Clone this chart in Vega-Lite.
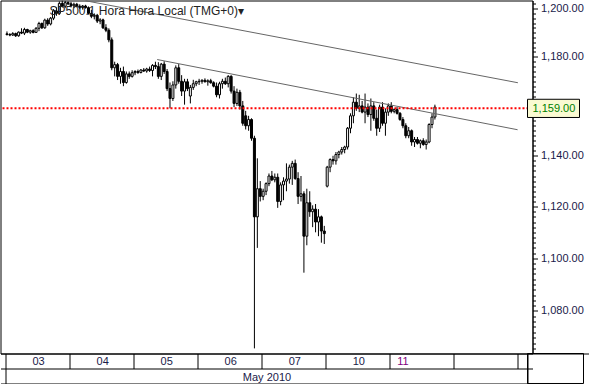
{
  "$schema": "https://vega.github.io/schema/vega-lite/v6.json",
  "width": 532,
  "height": 353,
  "autosize": {"type": "none"},
  "padding": {"left": 0.5, "top": 0.5, "right": 56.5, "bottom": 30.5},
  "background": "#ffffff",
  "config": {"view": {"stroke": "#000000", "strokeWidth": 1}, "font": "Liberation Sans", "axis": {"grid": false}},
  "data": {"values": [
    {"t":0,"o":1189.5,"h":1190.5,"l":1188.8,"c":1189.2},
    {"t":1,"o":1189.2,"h":1189.8,"l":1188.5,"c":1189.0},
    {"t":2,"o":1189.0,"h":1190.2,"l":1188.6,"c":1189.6},
    {"t":3,"o":1189.6,"h":1190.0,"l":1188.2,"c":1188.7},
    {"t":4,"o":1188.7,"h":1190.5,"l":1188.3,"c":1190.2},
    {"t":5,"o":1190.2,"h":1191.8,"l":1189.4,"c":1189.8},
    {"t":6,"o":1189.8,"h":1192.0,"l":1189.0,"c":1191.3},
    {"t":7,"o":1191.3,"h":1191.6,"l":1189.8,"c":1190.2},
    {"t":8,"o":1190.2,"h":1191.2,"l":1189.5,"c":1190.8},
    {"t":9,"o":1190.8,"h":1191.4,"l":1189.7,"c":1190.1},
    {"t":10,"o":1190.1,"h":1192.3,"l":1189.9,"c":1191.8},
    {"t":11,"o":1191.8,"h":1194.5,"l":1190.6,"c":1193.8},
    {"t":12,"o":1193.8,"h":1194.2,"l":1191.5,"c":1192.0},
    {"t":13,"o":1192.0,"h":1195.8,"l":1191.6,"c":1195.2},
    {"t":14,"o":1195.2,"h":1196.0,"l":1192.8,"c":1193.6},
    {"t":15,"o":1193.6,"h":1196.5,"l":1193.0,"c":1196.0},
    {"t":16,"o":1196.0,"h":1199.8,"l":1195.2,"c":1199.0},
    {"t":17,"o":1199.0,"h":1200.5,"l":1197.0,"c":1198.0},
    {"t":18,"o":1198.0,"h":1203.0,"l":1197.5,"c":1202.2},
    {"t":19,"o":1202.2,"h":1203.3,"l":1200.5,"c":1201.0},
    {"t":20,"o":1201.0,"h":1203.2,"l":1200.2,"c":1202.5},
    {"t":21,"o":1202.5,"h":1203.0,"l":1201.5,"c":1202.0},
    {"t":22,"o":1202.0,"h":1202.8,"l":1200.5,"c":1201.2},
    {"t":23,"o":1201.2,"h":1202.5,"l":1200.2,"c":1201.8},
    {"t":24,"o":1201.8,"h":1202.4,"l":1200.8,"c":1201.0},
    {"t":25,"o":1201.0,"h":1201.8,"l":1199.8,"c":1200.5},
    {"t":26,"o":1200.5,"h":1201.5,"l":1199.6,"c":1201.1},
    {"t":27,"o":1201.1,"h":1201.6,"l":1200.0,"c":1200.4},
    {"t":28,"o":1200.4,"h":1200.9,"l":1197.5,"c":1198.0},
    {"t":29,"o":1198.0,"h":1199.5,"l":1196.0,"c":1196.8},
    {"t":30,"o":1196.8,"h":1198.0,"l":1195.5,"c":1197.2},
    {"t":31,"o":1197.2,"h":1197.8,"l":1194.0,"c":1194.8},
    {"t":32,"o":1194.8,"h":1196.0,"l":1193.5,"c":1195.3},
    {"t":33,"o":1195.3,"h":1195.8,"l":1191.5,"c":1192.0},
    {"t":34,"o":1192.0,"h":1193.5,"l":1190.2,"c":1191.0},
    {"t":35,"o":1191.0,"h":1191.8,"l":1186.0,"c":1187.0},
    {"t":36,"o":1187.0,"h":1188.0,"l":1174.5,"c":1175.5},
    {"t":37,"o":1175.5,"h":1178.0,"l":1172.0,"c":1176.8},
    {"t":38,"o":1176.8,"h":1177.5,"l":1170.5,"c":1172.0},
    {"t":39,"o":1172.0,"h":1175.5,"l":1169.0,"c":1174.0},
    {"t":40,"o":1174.0,"h":1176.0,"l":1168.0,"c":1169.5},
    {"t":41,"o":1169.5,"h":1174.0,"l":1169.0,"c":1173.0},
    {"t":42,"o":1173.0,"h":1174.0,"l":1171.0,"c":1172.0},
    {"t":43,"o":1172.0,"h":1174.5,"l":1171.5,"c":1173.5},
    {"t":44,"o":1173.5,"h":1174.5,"l":1172.5,"c":1174.0},
    {"t":45,"o":1174.0,"h":1174.8,"l":1173.0,"c":1173.6},
    {"t":46,"o":1173.6,"h":1175.0,"l":1173.2,"c":1174.6},
    {"t":47,"o":1174.6,"h":1175.4,"l":1173.8,"c":1174.2},
    {"t":48,"o":1174.2,"h":1175.5,"l":1173.5,"c":1175.0},
    {"t":49,"o":1175.0,"h":1176.0,"l":1173.8,"c":1174.4},
    {"t":50,"o":1174.4,"h":1177.0,"l":1172.0,"c":1176.5},
    {"t":51,"o":1176.5,"h":1178.0,"l":1175.0,"c":1176.0},
    {"t":52,"o":1176.0,"h":1177.8,"l":1171.0,"c":1172.0},
    {"t":53,"o":1172.0,"h":1177.5,"l":1170.5,"c":1177.0},
    {"t":54,"o":1177.0,"h":1178.2,"l":1173.0,"c":1174.0},
    {"t":55,"o":1174.0,"h":1175.0,"l":1166.0,"c":1167.0},
    {"t":56,"o":1167.0,"h":1169.5,"l":1159.0,"c":1163.0},
    {"t":57,"o":1163.0,"h":1170.0,"l":1162.0,"c":1168.5},
    {"t":58,"o":1168.5,"h":1176.5,"l":1167.0,"c":1175.5},
    {"t":59,"o":1175.5,"h":1177.0,"l":1169.0,"c":1170.0},
    {"t":60,"o":1170.0,"h":1172.5,"l":1164.0,"c":1166.0},
    {"t":61,"o":1166.0,"h":1171.0,"l":1160.5,"c":1169.8},
    {"t":62,"o":1169.8,"h":1171.0,"l":1166.0,"c":1167.0},
    {"t":63,"o":1164.0,"h":1168.5,"l":1161.0,"c":1167.5},
    {"t":64,"o":1167.5,"h":1170.6,"l":1166.5,"c":1169.0},
    {"t":65,"o":1169.0,"h":1170.2,"l":1168.0,"c":1169.8},
    {"t":66,"o":1169.8,"h":1171.0,"l":1168.5,"c":1170.0},
    {"t":67,"o":1170.0,"h":1170.8,"l":1169.0,"c":1170.4},
    {"t":68,"o":1170.4,"h":1171.2,"l":1169.5,"c":1169.8},
    {"t":69,"o":1169.8,"h":1170.8,"l":1168.2,"c":1170.2},
    {"t":70,"o":1170.2,"h":1171.0,"l":1169.0,"c":1169.4},
    {"t":71,"o":1169.4,"h":1170.0,"l":1167.5,"c":1168.0},
    {"t":72,"o":1168.0,"h":1169.5,"l":1163.5,"c":1164.5},
    {"t":73,"o":1164.5,"h":1169.8,"l":1163.0,"c":1169.0},
    {"t":74,"o":1169.0,"h":1171.0,"l":1167.0,"c":1170.0},
    {"t":75,"o":1170.0,"h":1171.5,"l":1168.5,"c":1169.0},
    {"t":76,"o":1169.0,"h":1172.5,"l":1167.5,"c":1172.0},
    {"t":77,"o":1172.0,"h":1172.5,"l":1165.0,"c":1166.0},
    {"t":78,"o":1166.0,"h":1168.0,"l":1159.5,"c":1161.0},
    {"t":79,"o":1161.0,"h":1167.0,"l":1160.0,"c":1165.5},
    {"t":80,"o":1165.5,"h":1166.5,"l":1158.5,"c":1160.0},
    {"t":81,"o":1160.0,"h":1162.0,"l":1152.0,"c":1153.0},
    {"t":82,"o":1156.0,"h":1158.0,"l":1150.5,"c":1152.0},
    {"t":83,"o":1152.0,"h":1156.0,"l":1150.0,"c":1154.5},
    {"t":84,"o":1154.5,"h":1155.0,"l":1146.0,"c":1147.0},
    {"t":85,"o":1147.0,"h":1148.0,"l":1066.0,"c":1116.0},
    {"t":86,"o":1116.0,"h":1139.0,"l":1104.0,"c":1127.0},
    {"t":87,"o":1127.0,"h":1130.0,"l":1122.0,"c":1124.0},
    {"t":88,"o":1124.0,"h":1127.0,"l":1122.5,"c":1126.0},
    {"t":89,"o":1126.0,"h":1129.5,"l":1124.5,"c":1129.0},
    {"t":90,"o":1129.0,"h":1133.0,"l":1128.0,"c":1132.0},
    {"t":91,"o":1132.0,"h":1134.0,"l":1130.0,"c":1130.5},
    {"t":92,"o":1130.5,"h":1133.0,"l":1129.5,"c":1131.5},
    {"t":93,"o":1131.5,"h":1133.0,"l":1119.5,"c":1122.0},
    {"t":94,"o":1122.0,"h":1129.5,"l":1120.5,"c":1128.5},
    {"t":95,"o":1128.5,"h":1131.5,"l":1122.5,"c":1130.0},
    {"t":96,"o":1130.0,"h":1137.0,"l":1126.0,"c":1130.8},
    {"t":97,"o":1130.8,"h":1136.5,"l":1129.0,"c":1135.5},
    {"t":98,"o":1135.5,"h":1138.0,"l":1128.5,"c":1137.0},
    {"t":99,"o":1137.0,"h":1138.5,"l":1130.5,"c":1131.0},
    {"t":100,"o":1131.0,"h":1133.5,"l":1121.0,"c":1124.0},
    {"t":101,"o":1124.0,"h":1132.0,"l":1122.0,"c":1125.0},
    {"t":102,"o":1125.0,"h":1126.0,"l":1094.5,"c":1108.5},
    {"t":103,"o":1108.5,"h":1127.0,"l":1105.0,"c":1121.5},
    {"t":104,"o":1121.5,"h":1126.0,"l":1116.0,"c":1118.0},
    {"t":105,"o":1118.0,"h":1120.5,"l":1112.0,"c":1119.0},
    {"t":106,"o":1119.0,"h":1121.0,"l":1110.0,"c":1114.0},
    {"t":107,"o":1114.0,"h":1119.0,"l":1108.5,"c":1116.0},
    {"t":108,"o":1116.0,"h":1116.5,"l":1106.0,"c":1110.5},
    {"t":109,"o":1110.5,"h":1112.5,"l":1105.5,"c":1109.5},
    {"t":110,"o":1128.0,"h":1136.0,"l":1127.5,"c":1135.5},
    {"t":111,"o":1135.5,"h":1139.0,"l":1133.5,"c":1138.5},
    {"t":112,"o":1138.5,"h":1140.0,"l":1136.5,"c":1138.0},
    {"t":113,"o":1138.0,"h":1141.5,"l":1136.5,"c":1140.5},
    {"t":114,"o":1140.5,"h":1142.0,"l":1139.0,"c":1141.5},
    {"t":115,"o":1141.5,"h":1143.5,"l":1140.5,"c":1142.5},
    {"t":116,"o":1142.5,"h":1144.0,"l":1141.0,"c":1143.5},
    {"t":117,"o":1143.5,"h":1151.5,"l":1142.5,"c":1151.0},
    {"t":118,"o":1151.0,"h":1157.0,"l":1149.0,"c":1156.0},
    {"t":119,"o":1156.0,"h":1163.5,"l":1153.0,"c":1161.5},
    {"t":120,"o":1161.5,"h":1165.0,"l":1158.0,"c":1159.0},
    {"t":121,"o":1159.0,"h":1164.5,"l":1157.5,"c":1160.0},
    {"t":122,"o":1160.0,"h":1162.0,"l":1157.0,"c":1157.5},
    {"t":123,"o":1157.5,"h":1165.0,"l":1153.0,"c":1159.5},
    {"t":124,"o":1159.5,"h":1161.0,"l":1155.5,"c":1156.5},
    {"t":125,"o":1156.5,"h":1163.0,"l":1150.0,"c":1160.0},
    {"t":126,"o":1160.0,"h":1161.5,"l":1154.0,"c":1155.0},
    {"t":127,"o":1155.0,"h":1158.5,"l":1148.0,"c":1151.0},
    {"t":128,"o":1151.0,"h":1160.5,"l":1149.5,"c":1159.5},
    {"t":129,"o":1159.5,"h":1161.5,"l":1152.0,"c":1153.0},
    {"t":130,"o":1153.0,"h":1159.0,"l":1148.0,"c":1157.5},
    {"t":131,"o":1157.5,"h":1161.0,"l":1156.0,"c":1160.0},
    {"t":132,"o":1160.0,"h":1161.5,"l":1157.0,"c":1157.8},
    {"t":133,"o":1157.8,"h":1159.0,"l":1157.0,"c":1158.5},
    {"t":134,"o":1158.5,"h":1159.5,"l":1156.5,"c":1157.0},
    {"t":135,"o":1157.0,"h":1157.5,"l":1154.0,"c":1154.5},
    {"t":136,"o":1154.5,"h":1155.5,"l":1151.0,"c":1152.0},
    {"t":137,"o":1152.0,"h":1153.0,"l":1147.0,"c":1148.0},
    {"t":138,"o":1148.0,"h":1151.5,"l":1147.0,"c":1150.0},
    {"t":139,"o":1150.0,"h":1150.5,"l":1144.0,"c":1145.5},
    {"t":140,"o":1145.5,"h":1147.5,"l":1143.5,"c":1146.5},
    {"t":141,"o":1146.5,"h":1147.5,"l":1144.5,"c":1145.0},
    {"t":142,"o":1145.0,"h":1146.5,"l":1143.0,"c":1146.0},
    {"t":143,"o":1146.0,"h":1147.0,"l":1144.0,"c":1144.5},
    {"t":144,"o":1144.5,"h":1146.5,"l":1142.5,"c":1145.5},
    {"t":145,"o":1145.5,"h":1153.0,"l":1145.0,"c":1152.5},
    {"t":146,"o":1152.5,"h":1157.0,"l":1151.0,"c":1155.5},
    {"t":147,"o":1155.5,"h":1160.5,"l":1154.5,"c":1159.5}
  ]},
  "resolve": {"axis": {"x": "independent", "y": "independent"}},
  "layer": [
    {
      "mark": {"type": "rule", "color": "#000000", "strokeWidth": 1},
      "encoding": {
        "x": {"field": "t", "type": "quantitative",
          "scale": {"domain": [-0.5, 178.8], "nice": false, "zero": false},
          "axis": {
            "orient": "bottom",
            "values": [-0.5, 21.5, 43.5, 65.5, 87.5, 109.5, 131.5, 153.5, 175.5, 178.8],
            "domain": true, "domainColor": "#000000",
            "ticks": true, "tickSize": 15, "tickColor": "#000000", "tickWidth": 1,
            "labelExpr": "datum.value < 0 ? '03' : datum.value < 22 ? '04' : datum.value < 44 ? '05' : datum.value < 66 ? '06' : datum.value < 88 ? '07' : datum.value < 110 ? '10' : datum.value < 132 ? '11' : ''",
            "labelAlign": {"condition": {"test": "datum.value == 131.5", "value": "left"}, "value": "center"},
            "labelOffset": {"condition": {"test": "datum.value == 131.5", "value": 7}, "value": 32.6},
            "labelColor": {"condition": {"test": "datum.value == 131.5", "value": "#800080"}, "value": "#1a1a4a"},
            "labelPadding": -13,
            "labelFont": "Liberation Sans", "labelFontSize": 11,
            "labelOverlap": false, "labelBound": false, "labelFlush": false,
            "title": "May 2010", "titleFont": "Liberation Sans", "titleFontSize": 11, "titleFontWeight": "normal", "titleColor": "#1a1a4a", "titlePadding": 2
          }
        },
        "y": {"field": "l", "type": "quantitative",
          "scale": {"type": "log", "domain": [1064.1, 1203.4], "nice": false, "zero": false},
          "axis": {
            "orient": "right", "title": null,
            "values": [1080, 1100, 1120, 1140, 1160, 1180, 1200],
            "domain": true, "domainColor": "#000000",
            "ticks": true, "tickColor": "#000000", "tickWidth": 1, "tickSize": 5,
            "labelExpr": "datum.value == 1160 ? '' : format(datum.value, ',.2f')",
            "labelFont": "Liberation Sans", "labelFontSize": 11, "labelColor": "#1a1a4a",
            "labelPadding": 3, "labelOverlap": false, "labelBound": false, "labelFlush": false
          }
        },
        "y2": {"field": "h"}
      }
    },
    {
      "mark": {"type": "bar", "orient": "vertical", "size": 2, "stroke": "#000000", "strokeWidth": 1},
      "encoding": {
        "x": {"field": "t", "type": "quantitative",
          "axis": {"orient": "bottom", "offset": 30, "domain": true, "domainColor": "#000000", "ticks": false, "labels": false, "title": null}},
        "y": {"field": "o", "type": "quantitative",
          "axis": {
            "orient": "right", "title": null, "domain": false, "labels": false,
            "values": [1066,1068,1070,1072,1074,1076,1078,1082,1084,1086,1088,1090,1092,1094,1096,1098,1102,1104,1106,1108,1110,1112,1114,1116,1118,1122,1124,1126,1128,1130,1132,1134,1136,1138,1142,1144,1146,1148,1150,1152,1154,1156,1158,1162,1164,1166,1168,1170,1172,1174,1176,1178,1182,1184,1186,1188,1190,1192,1194,1196,1198,1202],
            "ticks": true, "tickSize": 3, "tickColor": "#000000", "tickWidth": 1
          }
        },
        "y2": {"field": "c"},
        "fill": {"condition": {"test": "datum.c >= datum.o", "value": "#ffffff"}, "value": "#000000"}
      }
    },
    {
      "data": {"values": [
        {"line": "upper", "t": 27, "p": 1203.3},
        {"line": "upper", "t": 175.5, "p": 1169.4},
        {"line": "lower", "t": 51.6, "p": 1178.9},
        {"line": "lower", "t": 175.4, "p": 1150.4}
      ]},
      "mark": {"type": "line", "color": "#666666", "strokeWidth": 1},
      "encoding": {
        "x": {"field": "t", "type": "quantitative",
          "axis": {"orient": "bottom", "offset": 15, "values": [-0.5, 178.8], "domain": true, "domainColor": "#000000", "ticks": true, "tickSize": 15, "tickColor": "#000000", "labels": false, "title": null}},
        "y": {"field": "p", "type": "quantitative",
          "axis": {"orient": "right", "title": null, "domain": false, "labels": false, "values": [1064.1], "ticks": true, "tickSize": 56, "tickColor": "#000000", "tickWidth": 1}},
        "detail": {"field": "line"}
      }
    },
    {
      "data": {"values": [{"caption": "SP500.1 Hora Hora Local (TMG+0)▾"}]},
      "mark": {"type": "text", "align": "left", "baseline": "alphabetic", "dx": 44, "dy": 14.5, "font": "Liberation Sans", "fontSize": 12, "color": "#222222"},
      "encoding": {
        "x": {"datum": -0.5, "type": "quantitative", "axis": null},
        "y": {"datum": 1203.4, "type": "quantitative", "axis": null},
        "text": {"field": "caption"}
      }
    },
    {
      "data": {"values": [{"price": 1159, "label": "1,159.00"}]},
      "layer": [
        {
          "mark": {"type": "rule", "color": "#ff0000", "strokeWidth": 2, "strokeDash": [2, 2]},
          "encoding": {"y": {"field": "price", "type": "quantitative", "axis": null}}
        },
        {
          "mark": {"type": "point", "shape": "M0,-0.35L2,-0.35L2,0.35L0,0.35Z", "size": 2704, "filled": true, "fill": "#fafad2", "stroke": "#000000", "strokeWidth": 1, "opacity": 1, "fillOpacity": 1},
          "encoding": {
            "x": {"datum": 178.8, "type": "quantitative", "axis": null},
            "y": {"field": "price", "type": "quantitative", "axis": null}
          }
        },
        {
          "mark": {"type": "text", "align": "left", "baseline": "middle", "dx": 5, "dy": 0.5, "font": "Liberation Sans", "fontSize": 11, "color": "#008000"},
          "encoding": {
            "x": {"datum": 178.8, "type": "quantitative", "axis": null},
            "y": {"field": "price", "type": "quantitative", "axis": null},
            "text": {"field": "label"}
          }
        },
        {
          "mark": {"type": "point", "shape": "M0,0L2,0L2,1.071L0,1.071Z", "size": 3136, "filled": false, "stroke": "#000000", "strokeWidth": 1, "opacity": 1},
          "encoding": {
            "x": {"datum": 178.8, "type": "quantitative", "axis": null},
            "y": {"datum": 1064.1, "type": "quantitative", "axis": null}
          }
        }
      ]
    }
  ]
}
